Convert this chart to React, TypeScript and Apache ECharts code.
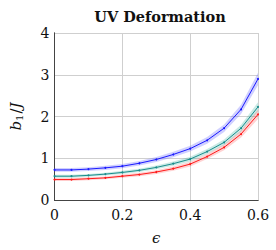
import React, { useEffect, useRef } from "react";
import * as echarts from "echarts";

const eps = [0, 0.05, 0.1, 0.15, 0.2, 0.25, 0.3, 0.35, 0.4, 0.45, 0.5, 0.55, 0.6];
const blue = [0.72, 0.72, 0.74, 0.77, 0.81, 0.88, 0.97, 1.09, 1.23, 1.43, 1.72, 2.17, 2.9];
const teal = [0.57, 0.57, 0.59, 0.62, 0.66, 0.71, 0.78, 0.87, 0.98, 1.16, 1.38, 1.72, 2.23];
const red = [0.49, 0.49, 0.51, 0.53, 0.57, 0.61, 0.67, 0.75, 0.86, 1.04, 1.26, 1.58, 2.05];
const blueErr = [0.045, 0.045, 0.045, 0.05, 0.05, 0.055, 0.06, 0.065, 0.07, 0.08, 0.09, 0.11, 0.15];
const tealErr = [0.035, 0.035, 0.035, 0.035, 0.04, 0.04, 0.045, 0.05, 0.055, 0.06, 0.07, 0.085, 0.11];
const redErr = [0.035, 0.035, 0.035, 0.035, 0.04, 0.04, 0.045, 0.05, 0.055, 0.06, 0.07, 0.085, 0.11];
const xTicks = [0, 0.2, 0.4, 0.6];
const yTicks = [0, 1, 2, 3, 4];

const FONT = "'DejaVu Serif', 'Liberation Serif', serif";

function bandSeries(vals: number[], err: number[], color: string) {
  return {
    type: "custom",
    data: [[0, 0]],
    silent: true,
    z: 1,
    renderItem: (_params: any, api: any) => {
      const upper = vals.map((v, i) => api.coord([eps[i], v + err[i]]));
      const lower = vals.map((v, i) => api.coord([eps[i], v - err[i]])).reverse();
      return {
        type: "polygon",
        shape: { points: upper.concat(lower) },
        style: { fill: color, stroke: "none" },
      };
    },
  };
}

function lineSeries(name: string, vals: number[], color: string) {
  return {
    type: "line",
    name,
    data: vals.map((v, i) => [eps[i], v]),
    symbol: "circle",
    symbolSize: 2,
    itemStyle: { color },
    lineStyle: { color, width: 1 },
    z: 3,
  };
}

export default function App() {
  const ref = useRef<HTMLDivElement>(null);
  useEffect(() => {
    document.body.style.margin = "0";
    const chart = echarts.init(ref.current!, null, { renderer: "svg" });
    const axisLine = { show: true, lineStyle: { color: "#444", width: 1 } };
    chart.setOption({
      animation: false,
      title: {
        text: "UV Deformation",
        left: 155,
        textAlign: "center",
        top: 4,
        textStyle: { fontFamily: FONT, fontSize: 14.5, fontWeight: "bold", color: "#111" },
      },
      grid: { left: 52, right: 18, top: 33, bottom: 45 },
      xAxis: [
        {
          type: "value",
          min: 0,
          max: 0.6,
          interval: 0.2,
          axisLine: { ...axisLine, onZero: false },
          axisTick: { show: false },
          axisLabel: {
            fontFamily: FONT,
            fontSize: 14,
            color: "#111",
            margin: 8,
            formatter: (v: number) => (xTicks.includes(Math.round(v * 10) / 10) ? String(Math.round(v * 10) / 10) : ""),
          },
          splitLine: { show: true, lineStyle: { color: "#cfcfcf", width: 1 } },
          name: "ϵ",
          nameLocation: "middle",
          nameGap: 30,
          nameTextStyle: { fontFamily: FONT, fontSize: 15, fontStyle: "italic", color: "#111" },
        },
        {
          type: "value",
          position: "top",
          min: 0,
          max: 0.6,
          interval: 0.2,
          axisLine: axisLine,
          axisTick: { show: false },
          axisLabel: { show: false },
          splitLine: { show: false },
        },
      ],
      yAxis: [
        {
          type: "value",
          min: 0,
          max: 4,
          interval: 1,
          axisLine: axisLine,
          axisTick: { show: false },
          axisLabel: {
            fontFamily: FONT,
            fontSize: 14,
            color: "#111",
            margin: 5,
            formatter: (v: number) => (yTicks.includes(v) ? String(v) : ""),
          },
          splitLine: { show: true, lineStyle: { color: "#cfcfcf", width: 1 } },
          name: "{i|b}{s|1}{n|/}{i|J}",
          nameLocation: "middle",
          nameGap: 30,
          nameRotate: 90,
          nameTextStyle: {
            fontFamily: FONT,
            fontSize: 15,
            color: "#111",
            rich: {
              i: { fontFamily: FONT, fontSize: 15, fontStyle: "italic", color: "#111" },
              n: { fontFamily: FONT, fontSize: 15, color: "#111" },
              s: { fontFamily: FONT, fontSize: 10, color: "#111", verticalAlign: "bottom", padding: [8, 1, 0, 0] },
            },
          },
        },
        {
          type: "value",
          position: "right",
          min: 0,
          max: 4,
          interval: 1,
          axisLine: axisLine,
          axisTick: { show: false },
          axisLabel: { show: false },
          splitLine: { show: false },
        },
      ],
      series: [
        bandSeries(blue, blueErr, "rgba(110,110,255,0.32)"),
        bandSeries(teal, tealErr, "rgba(40,170,150,0.25)"),
        bandSeries(red, redErr, "rgba(255,80,80,0.25)"),
        lineSeries("blue", blue, "#1a1aff"),
        lineSeries("teal", teal, "#1a8c8c"),
        lineSeries("red", red, "#ff1a1a"),
      ],
    });
    return () => chart.dispose();
  }, []);
  return <div ref={ref} style={{ width: 276, height: 250 }} />;
}
